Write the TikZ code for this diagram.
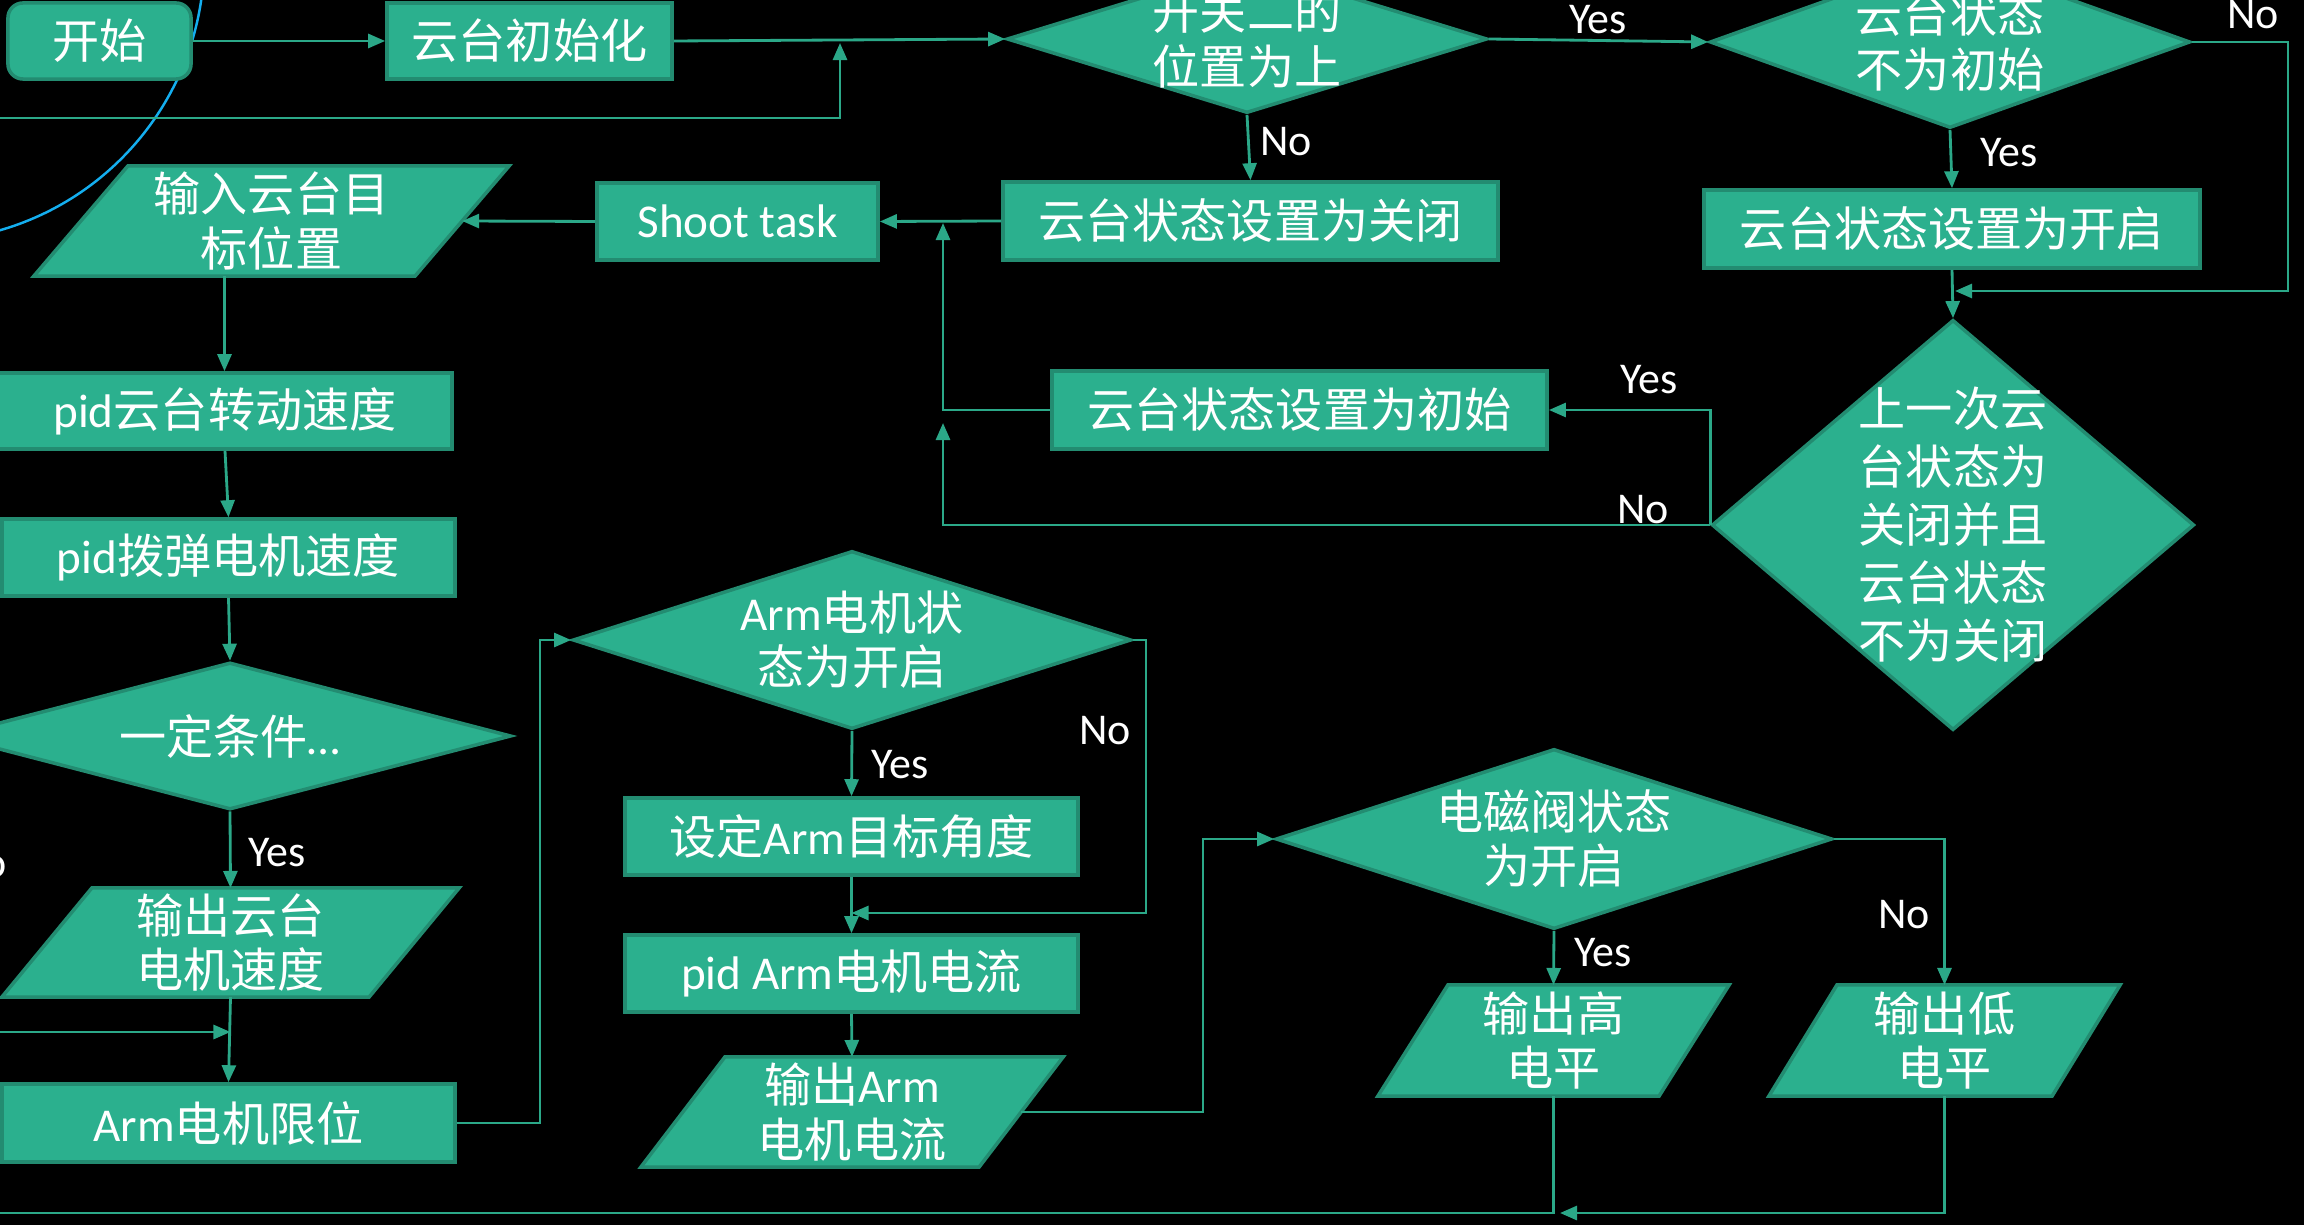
\documentclass[tikz,border=0pt]{standalone}
\usepackage{fontspec}
\setmainfont{Carlito}
\newfontfamily\cjk{Noto Sans CJK SC}
\usetikzlibrary{shapes.geometric,arrows.meta,calc}
\definecolor{fillc}{HTML}{2BB08E}
\definecolor{bdr}{HTML}{238C71}
\definecolor{linec}{HTML}{2BA888}
\definecolor{bluec}{HTML}{14AEEF}
\newcommand{\myNodeFont}{\fontsize{13.4pt}{15.4pt}\selectfont\cjk}
\newcommand{\myLblFont}{\fontsize{12.5pt}{14pt}\selectfont}
% parallelogram drawn on an invisible rectangle node #1 with slant #2 (px)
\newcommand{\drawpara}[2]{%
  \draw[pshape] (#1.south west) -- ($(#1.north west)+(#2,0)$) -- (#1.north east) -- ($(#1.south east)-(#2,0)$) -- cycle;
  \coordinate (#1-r) at ($(#1.east)-(#2/2,0)$);
  \coordinate (#1-b) at ($(#1.south)-(#2/2,0)$);}
\begin{document}
\begin{tikzpicture}[x=0.01cm, y=-0.01cm,
  box/.style={rectangle, draw=bdr, fill=fillc, line width=1pt, inner sep=0pt, text=white, font=\myNodeFont},
  startbox/.style={box, rounded corners=0.15cm},
  dia/.style={diamond, draw=bdr, fill=fillc, line width=1pt, inner sep=0pt},
  pbox/.style={rectangle, inner sep=0pt, outer sep=0pt},
  pshape/.style={draw=bdr, fill=fillc, line width=1pt, line join=miter},
  txt/.style={text=white, align=center, font=\myNodeFont, inner sep=0pt},
  lbl/.style={text=white, font=\myLblFont, inner sep=0pt},
  conn/.style={draw=linec, line width=0.8pt},
  arr/.style={conn, -{Triangle[length=0.17cm, width=0.14cm]}}
]
\useasboundingbox (0,0) rectangle (2304,1225);
\fill[black] (0,0) rectangle (2304,1225);
\clip (0,0) rectangle (2304,1225);

% stray blue circle
\draw[bluec, line width=0.7pt] (-78,-41) circle[radius=2.82cm];

% ---- nodes ----
\node[startbox, minimum width=1.83cm, minimum height=0.76cm] (start) at (99.5,41) {开始};
\node[box, minimum width=2.85cm, minimum height=0.76cm] (init) at (529.5,41) {云台初始化};

\node[dia, minimum width=4.8cm, minimum height=1.48cm] (d1) at (1247,39) {};
\node[txt] (d1t) at (d1) {开关二的\\位置为上};
\node[dia, minimum width=4.8cm, minimum height=1.72cm] (d2) at (1950,42) {};
\node[txt] (d2t) at (d2) {云台状态\\不为初始};

\node[box, minimum width=4.95cm, minimum height=0.78cm] (close) at (1250.5,221) {云台状态设置为关闭};
\node[box, minimum width=4.96cm, minimum height=0.78cm] (open) at (1952,229) {云台状态设置为开启};
\node[box, minimum width=2.81cm, minimum height=0.77cm] (shoot) at (737.5,221.5) {\rmfamily Shoot task};

\node[dia, minimum width=4.82cm, minimum height=4.10cm] (d3) at (1953,525) {};
\node[txt, font=\fontsize{13.4pt}{16.5pt}\selectfont\cjk] (d3t) at (d3) {上一次云\\台状态为\\关闭并且\\云台状态\\不为关闭};
\node[box, minimum width=4.95cm, minimum height=0.78cm] (setinit) at (1299.5,410) {云台状态设置为初始};

\node[pbox, minimum width=4.75cm, minimum height=1.10cm] (p1) at (271.5,221) {};
\drawpara{p1}{94}
\node[txt] (p1t) at (p1) {输入云台目\\标位置};

\node[box, minimum width=4.54cm, minimum height=0.76cm] (pid1) at (225,411) {{\rmfamily pid}云台转动速度};
\node[box, minimum width=4.53cm, minimum height=0.77cm] (pid2) at (228.5,557.5) {{\rmfamily pid}拨弹电机速度};

\node[dia, minimum width=5.62cm, minimum height=1.47cm] (d4) at (230,736) {};
\node[txt] (d4t) at (d4) {一定条件{\rmfamily …}};

\node[pbox, minimum width=4.57cm, minimum height=1.09cm] (p2) at (230.5,942.5) {};
\drawpara{p2}{90}
\node[txt] (p2t) at (p2) {输出云台\\电机速度};

\node[box, minimum width=4.53cm, minimum height=0.78cm] (armlim) at (228.5,1123) {{\rmfamily Arm}电机限位};

\node[dia, minimum width=5.58cm, minimum height=1.78cm] (darm) at (852,640) {};
\node[txt] (darmt) at (darm) {{\rmfamily Arm}电机状\\态为开启};
\node[box, minimum width=4.53cm, minimum height=0.77cm] (setarm) at (851.5,836.5) {设定{\rmfamily Arm}目标角度};
\node[box, minimum width=4.53cm, minimum height=0.77cm] (pidarm) at (851.5,973.5) {{\rmfamily pid Arm}电机电流};
\node[pbox, minimum width=4.22cm, minimum height=1.10cm] (p3) at (852,1112) {};
\drawpara{p3}{84}
\node[txt] (p3t) at (p3) {输出{\rmfamily Arm}\\电机电流};

\node[dia, minimum width=5.56cm, minimum height=1.80cm] (dmag) at (1554,839) {};
\node[txt] (dmagt) at (dmag) {电磁阀状态\\为开启};
\node[pbox, minimum width=3.51cm, minimum height=1.11cm] (p4) at (1553.5,1040.5) {};
\drawpara{p4}{70}
\node[txt] (p4t) at (p4) {输出高\\电平};
\node[pbox, minimum width=3.51cm, minimum height=1.11cm] (p5) at (1944.5,1040.5) {};
\drawpara{p5}{68}
\node[txt] (p5t) at (p5) {输出低\\电平};

% ---- helper coordinates ----
\coordinate (lbL) at (-10,118);
\coordinate (lbT) at (840,43);
\coordinate (n2a) at (2288,42);
\coordinate (n2b) at (1955,291);
\coordinate (mA) at (943,223);
\coordinate (mB) at (943,423);
\coordinate (noIn) at (-10,1032);
\coordinate (c540) at (540,0);
\coordinate (c1146) at (1146,913);
\coordinate (c1203) at (1203,0);
\coordinate (botL) at (-10,1213);
\coordinate (botJ) at (1560,1213);

% ---- connectors ----
\draw[arr] (start.east) -- (init.west);
\draw[arr] (init.east) -- (d1.west);
\draw[arr] (lbL) -| (lbT);
\draw[arr] (d1.east) -- (d2.west);
\draw[arr] (d1.south) -- (close.north);
\draw[arr] (d2.south) -- (open.north);
\draw[arr] (d2.east) -- (n2a) |- (n2b);
\draw[arr] (open.south) -- (d3.north);
\draw[arr] (d3.west) |- (setinit.east);
\draw[arr] (d3.west) -| (mB);
\draw[arr] (setinit.west) -| (mA);
\draw[arr] (close.west) -- (shoot.east);
\draw[arr] (shoot.west) -- (p1-r);
\draw[arr] (p1-b) -- (p1-b |- pid1.north);
\draw[arr] (pid1.south) -- (pid2.north);
\draw[arr] (pid2.south) -- (d4.north);
\draw[arr] (d4.south) -- (p2.north);
\draw[arr] (noIn) -- (noIn -| p2.south);
\draw[arr] (p2.south) -- (armlim.north);
\draw[arr] (armlim.east) -- (armlim.east -| c540) -- (c540 |- darm.west) -- (darm.west);
\draw[arr] (darm.south) -- (setarm.north);
\draw[arr] (darm.east) -| (c1146) -- (c1146 -| setarm.south);
\draw[arr] (setarm.south) -- (pidarm.north);
\draw[arr] (pidarm.south) -- (p3.north);
\draw[arr] (p3-r) -| (c1203 |- dmag.west) -- (dmag.west);
\draw[arr] (dmag.south) -- (p4.north);
\draw[arr] (dmag.east) -| (p5.north);
\draw[conn] (p4.south) |- (botL);
\draw[arr] (p5.south) |- (botJ);

% ---- labels ----
\node[lbl] (y1) at (1598,20) {Yes};
\node[lbl] (n1) at (2253,15) {No};
\node[lbl] (n2) at (1286,142) {No};
\node[lbl] (y2) at (2009,153) {Yes};
\node[lbl] (y3) at (1649,380) {Yes};
\node[lbl] (n3) at (1643,510) {No};
\node[lbl] (y4) at (277,853) {Yes};
\node[lbl, anchor=east] (n4) at (7,864) {No};
\node[lbl] (y5) at (900,765) {Yes};
\node[lbl] (n5) at (1105,731) {No};
\node[lbl] (y6) at (1603,953) {Yes};
\node[lbl] (n6) at (1904,915) {No};
\end{tikzpicture}
\end{document}
